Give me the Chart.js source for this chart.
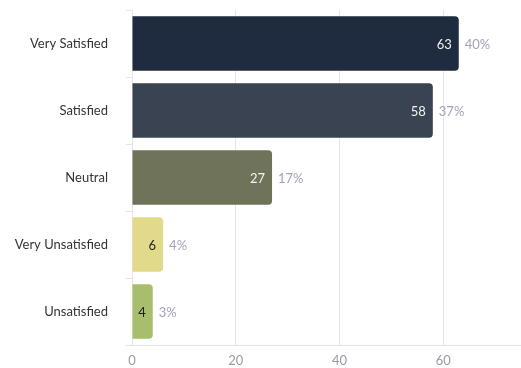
<!DOCTYPE html>
<html>
<head>
<meta charset="utf-8">
<script src="https://cdn.jsdelivr.net/npm/chart.js@4"></script>
<style>
  html, body { margin: 0; padding: 0; background: #ffffff; }
  #wrap { width: 521px; height: 368px; position: relative; }
</style>
</head>
<body>
<div id="wrap"><canvas id="grafica"></canvas></div>
<script>
// Datos
const categorias = ["Very Satisfied", "Satisfied", "Neutral", "Very Unsatisfied", "Unsatisfied"];
const respuestas = [63, 58, 27, 6, 4];
const porcentajes = ["40%", "37%", "17%", "4%", "3%"];
const ticksX = [0, 20, 40, 60];

const coloresBarra = ["#1f2b3e", "#394352", "#6e7359", "#e2d98b", "#a8be6d"];
const coloresTexto = ["#f2f2f2", "#f2f2f2", "#f2f2f2", "#1e1e1e", "#1e1e1e"];

// Etiquetas dentro y fuera de cada barra
const etiquetasBarra = {
    id: "etiquetasBarra",
    afterDatasetsDraw(chart) {
        const ctx = chart.ctx;
        const meta = chart.getDatasetMeta(0);
        ctx.save();
        ctx.font = "13px Lato, 'Open Sans', sans-serif";
        ctx.textBaseline = "middle";
        meta.data.forEach(function (bar, i) {
            ctx.fillStyle = coloresTexto[i];
            ctx.textAlign = "right";
            ctx.fillText(String(respuestas[i]), bar.x - 7, bar.y + 1);
            ctx.fillStyle = "#a3a3b8";
            ctx.textAlign = "left";
            ctx.fillText(porcentajes[i], bar.x + 6, bar.y + 1);
        });
        ctx.restore();
    },
};

new Chart(document.getElementById("grafica").getContext("2d"), {
    type: "bar",
    data: {
        labels: categorias,
        datasets: [
            {
                data: respuestas,
                backgroundColor: coloresBarra,
                borderRadius: 4,
                borderSkipped: "start",
                barPercentage: 0.81,
                categoryPercentage: 1,
            },
        ],
    },
    options: {
        indexAxis: "y",
        responsive: true,
        maintainAspectRatio: false,
        animation: false,
        layout: { padding: { top: 10, left: 0, right: 0, bottom: 0 } },
        plugins: {
            legend: { display: false },
            tooltip: { enabled: false },
        },
        scales: {
            x: {
                min: 0,
                max: 75,
                afterBuildTicks: function (scale) {
                    scale.ticks = ticksX.map(function (v) { return { value: v }; });
                },
                afterFit: function (scale) {
                    scale.height = 23;
                    scale.paddingLeft = 0;
                    scale.paddingRight = 0;
                },
                grid: {
                    color: function (c) {
                        return c.tick && ticksX.indexOf(c.tick.value) >= 0 ? "#e3e3eb" : "rgba(0,0,0,0)";
                    },
                    drawTicks: false,
                    lineWidth: 1,
                },
                border: { color: "#e3e3eb" },
                ticks: {
                    color: "#9a9aa6",
                    padding: 8,
                    font: { size: 13, family: "Lato, 'Open Sans', sans-serif" },
                },
            },
            y: {
                afterFit: function (scale) {
                    scale.width = 132;
                    scale.paddingTop = 0;
                    scale.paddingBottom = 0;
                },
                grid: { drawOnChartArea: false, tickLength: 6, color: "#e3e3eb" },
                border: { color: "#e3e3eb" },
                ticks: {
                    color: "#333338",
                    padding: 18,
                    font: { size: 13, family: "Lato, 'Open Sans', sans-serif" },
                },
            },
        },
    },
    plugins: [etiquetasBarra],
});
</script>
</body>
</html>
